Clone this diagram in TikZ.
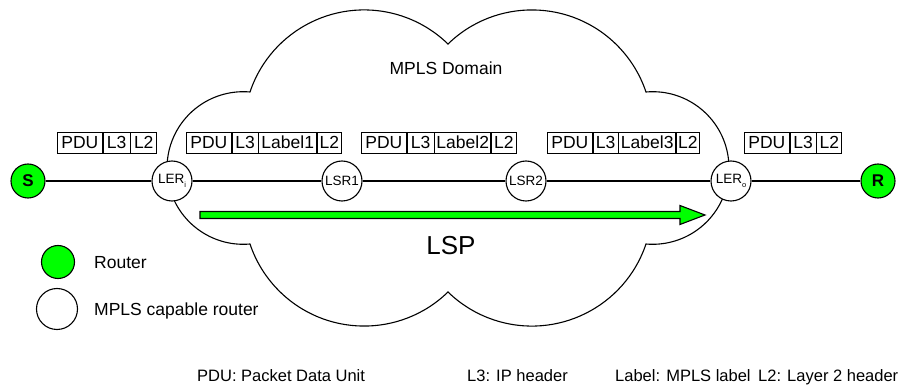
\documentclass[tikz,border=0pt]{standalone}
\usepackage{fontspec}
\setmainfont{Liberation Sans}
\definecolor{limeg}{RGB}{0,255,0}
\newcommand{\myfA}{\fontsize{17.5}{20}\selectfont}
\newcommand{\myfB}{\fontsize{16.5}{19}\selectfont}
\newcommand{\myfC}{\fontsize{13.5}{15}\selectfont}
\newcommand{\myfD}{\fontsize{17}{19}\selectfont\bfseries}
\newcommand{\myfE}{\fontsize{26}{30}\selectfont}
\newcommand{\mysubsc}[1]{\raisebox{-0.55ex}{\fontsize{7.5}{8}\selectfont #1}}
\begin{document}
\begin{tikzpicture}[x=1pt,y=1pt,
  cell/.style={draw, line width=0.7pt, minimum height=21pt, inner sep=0pt, anchor=west, font=\myfA},
  rtr/.style={circle, draw, line width=1.1pt, minimum size=40pt, inner sep=0pt, fill=white, font=\myfC},
  host/.style={circle, draw, line width=1.1pt, minimum size=34pt, inner sep=0pt, fill=limeg, font=\myfD},
  link/.style={line width=1.1pt},
  txt/.style={inner sep=0pt, anchor=base west, font=\myfB}]
\useasboundingbox (0,0) rectangle (898,386);
% cloud
\draw[line width=1.1pt] (250,294)
  arc[start angle=161.45, end angle=45.8, radius=120.35pt]
  arc[start angle=134.2, end angle=18.55, radius=120.35pt]
  arc[start angle=95.04, end angle=-95.04, radius=76.3pt]
  arc[start angle=-18.55, end angle=-134.2, radius=120.35pt]
  arc[start angle=-45.8, end angle=-161.45, radius=120.35pt]
  arc[start angle=-84.96, end angle=-275.04, radius=76.3pt] -- cycle;
\node[inner sep=0pt, anchor=base, font=\myfA] (dom) at (446,311) {MPLS Domain};
% LSP arrow
\draw[line width=1.1pt, fill=limeg] (200,174.5) -- (680,174.5) -- (680,180.5) -- (705,171) -- (680,161.5) -- (680,167.5) -- (200,167.5) -- cycle;
\node[inner sep=0pt, font=\myfE] (lsp) at (451,140) {LSP};
% routers
\node[host] (S) at (28,205) {S};
\node[rtr] (LERi) at (172,205) {LER\mysubsc{i}};
\node[rtr] (LSR1) at (342,205) {LSR1};
\node[rtr] (LSR2) at (526,205) {LSR2};
\node[rtr] (LERo) at (731,205) {LER\mysubsc{o}};
\node[host] (R) at (878,205) {R};
\draw[link] (S) -- (LERi) -- (LSR1) -- (LSR2) -- (LERo) -- (R);
% packet headers
\node[cell, minimum width=45pt] (a1) at (57,243.5) {PDU};
\node[cell, minimum width=27pt] (a2) at (a1.east) {L3};
\node[cell, minimum width=26pt] (a3) at (a2.east) {L2};
\node[cell, minimum width=45pt] (b1) at (186,243.5) {PDU};
\node[cell, minimum width=26pt] (b2) at (b1.east) {L3};
\node[cell, minimum width=58pt] (b3) at (b2.east) {Label1};
\node[cell, minimum width=24pt] (b4) at (b3.east) {L2};
\node[cell, minimum width=45pt] (c1) at (361,243.5) {PDU};
\node[cell, minimum width=27pt] (c2) at (c1.east) {L3};
\node[cell, minimum width=56pt] (c3) at (c2.east) {Label2};
\node[cell, minimum width=25pt] (c4) at (c3.east) {L2};
\node[cell, minimum width=45pt] (d1) at (547,243.5) {PDU};
\node[cell, minimum width=25pt] (d2) at (d1.east) {L3};
\node[cell, minimum width=57pt] (d3) at (d2.east) {Label3};
\node[cell, minimum width=23pt] (d4) at (d3.east) {L2};
\node[cell, minimum width=45pt] (e1) at (744,243.5) {PDU};
\node[cell, minimum width=26pt] (e2) at (e1.east) {L3};
\node[cell, minimum width=25pt] (e3) at (e2.east) {L2};
% legend
\node[host, minimum size=33pt] (lg) at (58,124) {};
\node[rtr, minimum size=41pt] (lw) at (57,77) {};
\node[txt, font=\myfA] (lgt) at (94,117) {Router};
\node[txt, font=\myfA] (lwt) at (94,70) {MPLS capable router};
% bottom definitions
\node[txt] (t1) at (197,5) {PDU: Packet Data Unit};
\node[txt] (t2) at (467,5) {L3: IP header};
\node[txt] (t3) at (615,5) {Label: MPLS label};
\node[txt] (t4) at (758,5) {L2: Layer 2 header};
\end{tikzpicture}
\end{document}
